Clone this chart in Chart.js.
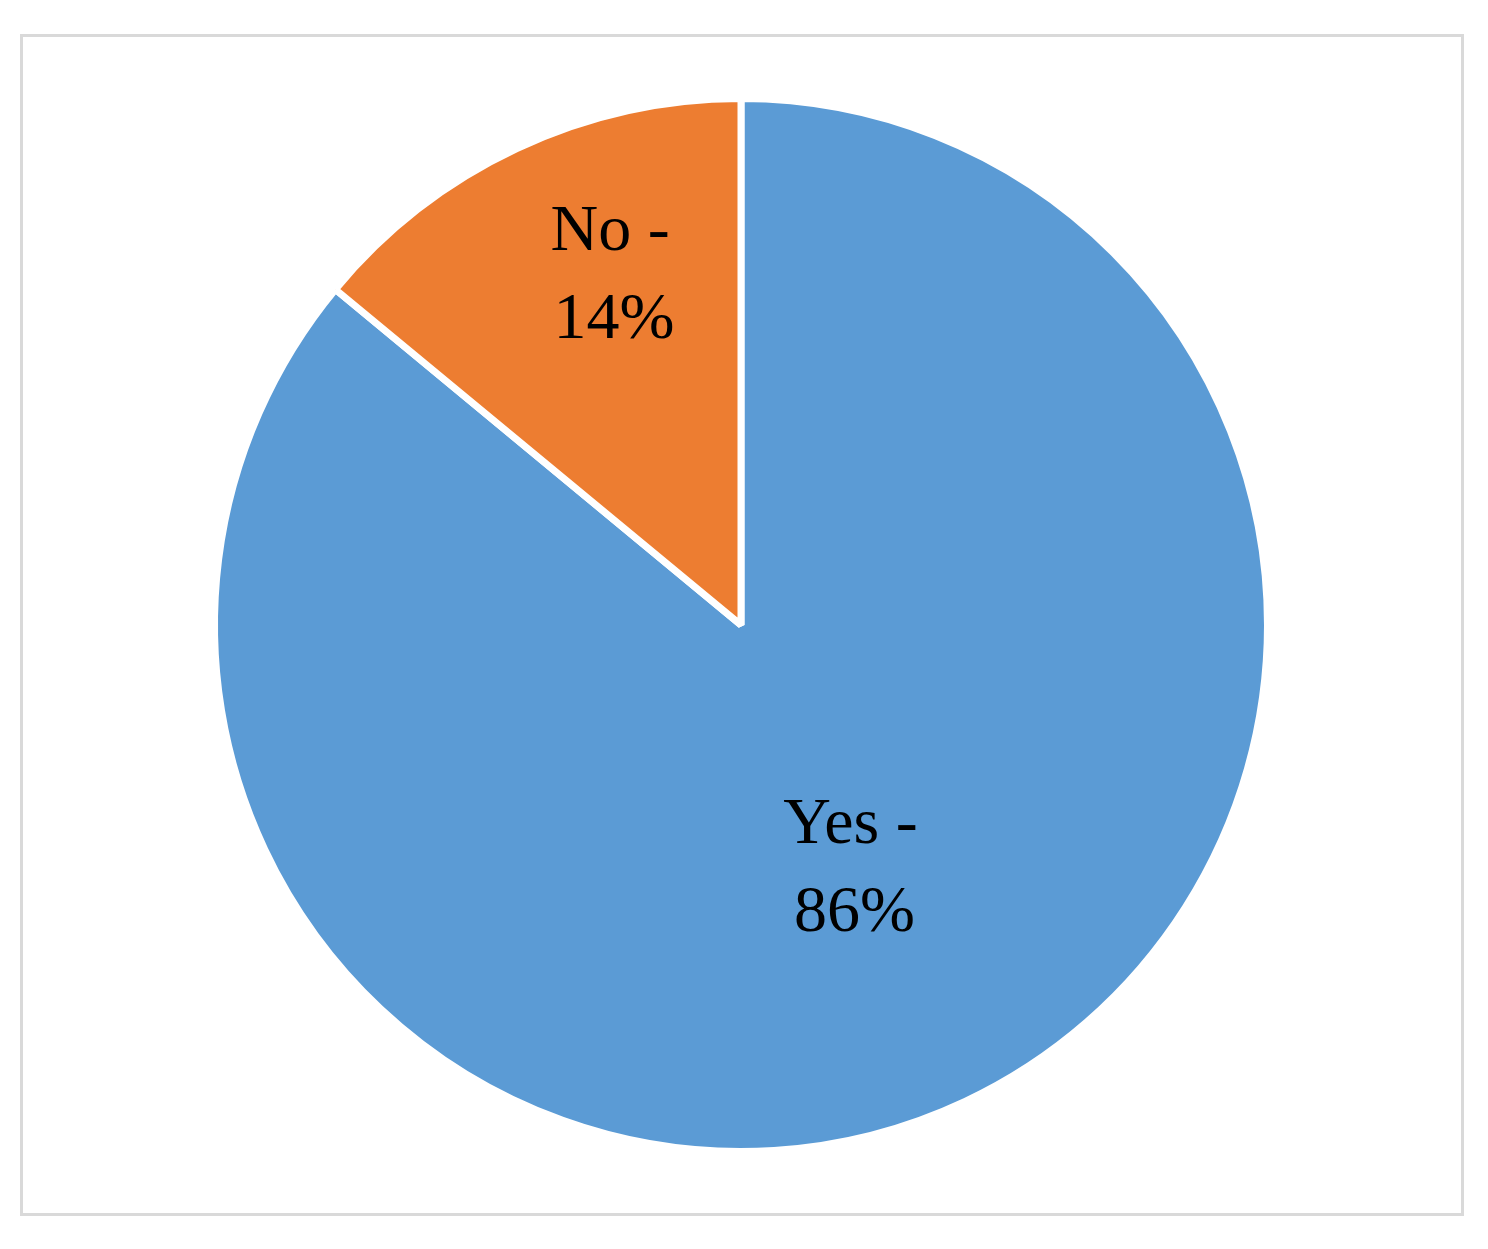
<!DOCTYPE html>
<html>
<head>
<meta charset="utf-8">
<script src="https://cdn.jsdelivr.net/npm/chart.js@4.4.0/dist/chart.umd.min.js"></script>
<style>
	body { margin: 0; background: #fff; }
	#frame { position: absolute; left: 20px; top: 34px; width: 1438px; height: 1176px; border: 3px solid #d9d9d9; }
	#pieChart { position: absolute; left: 0; top: 0; }
</style>
</head>
<body>
<div id="frame"></div>
<canvas id="pieChart" width="1488" height="1249"></canvas>
<script>
// chart data
var answers = ["Yes", "No"];
var shares = [86, 14];
var sliceColors = ["#5B9BD5", "#ED7D31"];

// where each label sits: fraction of radius and angle nudge (radians)
var labelSpots = [
	{ r: 0.51, shift: 0.012 },
	{ r: 0.705, shift: 0.085 }
];

var sliceLabels = {
	id: 'sliceLabels',
	afterDatasetsDraw: function(chart) {
		var ctx = chart.ctx;
		var arcs = chart.getDatasetMeta(0).data;
		ctx.save();
		ctx.fillStyle = "#000";
		ctx.font = "66px 'Liberation Serif', serif";
		ctx.textAlign = "center";
		ctx.textBaseline = "middle";
		for (var i = 0; i < arcs.length; i++) {
			var p = arcs[i].getProps(['x', 'y', 'startAngle', 'endAngle', 'outerRadius'], true);
			var mid = (p.startAngle + p.endAngle) / 2 + labelSpots[i].shift;
			var rr = p.outerRadius * labelSpots[i].r;
			var lx = p.x + Math.cos(mid) * rr;
			var ly = p.y + Math.sin(mid) * rr;
			ctx.fillText(answers[i] + " -", lx - 2, ly - 44);
			ctx.fillText(shares[i] + "%", lx + 2, ly + 44);
		}
		ctx.restore();
	}
};

var ctx = document.getElementById("pieChart").getContext('2d');
var myChart = new Chart(ctx, {
	type: 'pie',
	data: {
		labels: answers,
		datasets: [{
			data: shares,
			backgroundColor: sliceColors,
			borderColor: "#ffffff",
			borderWidth: 7
		}]
	},
	options: {
		responsive: false,
		animation: false,
		layout: {
			padding: { top: 95, bottom: 94, left: 211, right: 217 }
		},
		plugins: {
			legend: { display: false },
			tooltip: { enabled: false }
		}
	},
	plugins: [sliceLabels]
});
</script>
</body>
</html>
